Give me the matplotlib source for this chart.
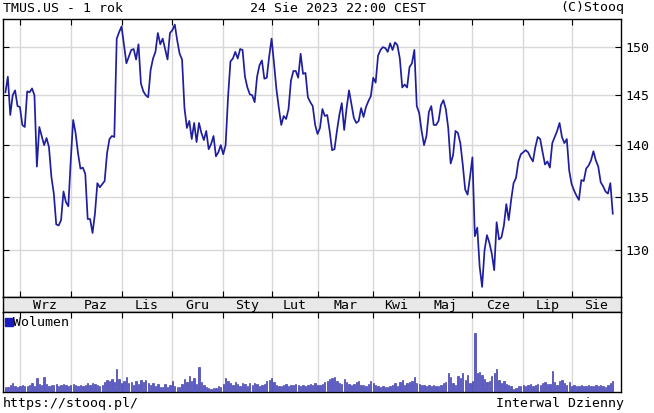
import numpy as np
import matplotlib
matplotlib.use("Agg")
import matplotlib.pyplot as plt
from matplotlib.ticker import FixedLocator, FixedFormatter, NullLocator, NullFormatter

# daily close, 24 Aug 2022 .. 24 Aug 2023 (trading days)
close = [
    145.3, 146.9, 143.0, 145.0, 145.5, 143.9, 143.8, 142.0, 141.8, 145.4,
    145.3, 145.7, 145.0, 137.9, 141.8, 140.9, 140.0, 140.7, 139.8, 136.9,
    135.3, 132.4, 132.3, 132.8, 135.5, 134.5, 134.1, 138.5, 142.5, 141.2,
    139.2, 137.7, 137.8, 137.2, 132.9, 132.9, 131.6, 133.4, 136.3, 135.9,
    136.2, 136.5, 139.2, 140.6,
    140.9, 140.8, 150.9, 151.6, 152.2, 150.2, 148.3, 149.0, 149.7, 149.8,
    148.7, 150.3, 146.2, 145.4, 145.0, 144.8, 147.6, 148.8, 149.5, 151.5,
    150.3, 150.9, 149.8, 148.7, 151.5, 151.8, 152.4, 150.7, 149.3, 148.7,
    143.7, 141.7, 142.4, 140.6, 142.2, 140.3, 142.2, 141.2, 140.5, 141.4,
    139.6, 140.1, 140.9, 138.9, 139.3, 140.0, 139.1,
    140.0, 144.8, 148.5, 148.8, 149.5, 148.8, 149.8, 149.7, 146.9, 145.8,
    145.1, 145.0, 144.3, 146.9, 148.1, 148.6, 146.7, 146.8, 149.0, 150.9,
    148.3, 145.6, 143.7, 142.0, 142.9, 142.6, 143.6, 146.5, 147.5, 147.5,
    146.8, 149.3, 147.2, 147.3, 144.8, 144.3,
    143.9, 142.0, 141.1, 141.7, 143.6, 142.9, 143.0, 141.4, 139.5, 139.6,
    141.4, 143.0, 144.2, 141.5, 143.7, 145.5, 144.1, 142.7, 142.2, 142.4,
    143.7, 142.8, 143.8, 144.4, 144.9, 146.8, 146.3, 149.1, 149.7, 150.0,
    149.9, 149.5, 150.4, 149.7, 150.5, 150.2, 148.8, 145.8, 146.1, 145.8,
    147.9,
    148.3, 149.7, 143.9, 143.2, 141.4, 140.0, 140.9, 143.3, 143.9, 142.0,
    142.0, 142.4, 144.0, 144.5, 143.6, 141.7, 138.2, 139.0, 141.4, 141.2,
    140.2, 138.1, 135.7, 135.2, 136.9, 138.8, 131.3, 132.1, 128.5, 126.7,
    130.0, 131.4, 130.7, 129.7, 128.2, 132.6, 131.0, 131.2, 132.3, 134.3,
    132.8, 134.7,
    136.3, 136.8, 138.4, 139.1, 139.3, 139.5, 139.3, 138.8, 138.4, 139.8,
    140.8, 140.6, 139.3, 138.1, 138.4, 137.8, 140.2, 140.8, 141.4, 142.2,
    140.8, 140.2, 140.6, 137.5, 136.2, 135.6, 135.1, 134.7, 136.6, 136.5,
    137.7, 138.0, 138.5, 139.4, 138.5, 137.9, 136.4, 136.0, 135.5, 135.3,
    136.3, 133.4,
]

# volume, millions
volume = [
    4.0, 3.6, 5.2, 7.0, 4.4, 3.8, 4.6, 5.0, 4.2, 4.8,
    5.5, 6.5, 4.6, 10.5, 6.0, 5.2, 11.5, 5.8, 4.6, 5.0,
    5.4, 5.8, 4.8, 5.2, 6.0, 5.6, 4.8, 5.5, 6.2, 5.0,
    4.6, 5.2, 4.4, 5.6, 6.4, 5.2, 7.0, 6.0, 5.4, 4.8,
    5.0, 7.6, 9.0, 8.0, 9.5, 7.4, 17.0, 9.8, 7.0, 8.4,
    11.0, 6.4, 7.2, 5.4, 8.6, 6.2, 9.0, 7.6, 8.8, 6.8,
    5.4, 7.0, 4.6, 6.0, 3.4, 4.0, 5.8, 3.8, 5.2, 8.6,
    4.8, 3.8, 4.0, 6.2, 10.0, 7.4, 12.0, 8.0, 10.6, 6.0,
    18.5, 7.6, 5.0, 4.0, 3.0, 2.4, 3.2, 2.8, 4.4, 4.0,
    6.2, 10.5, 8.6, 7.0, 5.0, 7.4, 6.0, 4.8, 7.0, 5.8,
    4.8, 6.6, 5.0, 6.8, 6.0, 4.4, 5.2, 6.0, 8.2, 9.0,
    10.5, 7.2, 5.6, 4.6, 4.8, 5.0, 6.2, 4.6, 5.4, 5.0,
    6.0, 5.2, 4.8, 5.6, 4.6, 5.4, 5.8, 5.2, 6.6, 5.0,
    5.6, 6.0, 7.2, 8.0, 9.4, 10.6, 11.0, 8.0, 7.0, 6.2,
    9.5, 7.6, 6.0, 5.0, 6.2, 7.4, 8.0, 5.4, 5.0, 4.6,
    6.2, 8.6, 7.0, 5.4, 4.4, 3.8, 4.6, 4.0, 3.6, 4.2,
    5.6, 6.8, 4.2, 7.4, 9.0, 5.6, 6.4, 7.8, 8.4, 11.2,
    6.8, 6.0, 5.2, 5.6, 4.8, 5.2, 4.6, 5.4, 4.4, 4.8,
    5.0, 6.4, 7.6, 14.0, 11.0, 6.6, 5.0, 12.0, 10.6, 14.5,
    9.0, 12.5, 7.0, 8.0, 44.0, 14.0, 15.0, 12.5, 9.6, 7.2,
    8.6, 12.0, 14.0, 17.5, 9.0, 7.0, 8.4, 6.2, 5.6, 4.8,
    2.2, 2.8, 4.2, 4.8, 5.4, 4.6, 5.2, 6.0, 4.8, 5.6,
    6.2, 5.4, 6.8, 7.6, 5.8, 6.0, 16.0, 7.2, 5.6, 8.0,
    9.0, 6.4, 5.0, 7.2, 4.8, 5.4, 4.6, 4.2, 5.0, 4.6,
    4.4, 5.2, 4.8, 4.2, 5.0, 4.6, 5.6, 4.4, 4.0, 5.0,
    6.8, 8.4,
]

months = ["Wrz", "Paz", "Lis", "Gru", "Sty", "Lut", "Mar", "Kwi", "Maj", "Cze", "Lip", "Sie"]
month_start = [6, 27, 48, 69, 90, 110, 129, 152, 171, 193, 214, 234]
price_ticks = [130, 135, 140, 145, 150]

mono = "DejaVu Sans Mono"
line_col = "#1f1f9e"
grid_col = "#d8d8d8"
x = np.arange(len(close))
xlim = (-1.0, 254.4)

W, H = 654, 413
fig = plt.figure(figsize=(W / 100, H / 100), dpi=100)


def box(l, t, r, b):
    return [l / W, 1 - b / H, (r - l) / W, (b - t) / H]


ax = fig.add_axes(box(3, 19, 621, 297))
ax.plot(x, close, color=line_col, lw=1.25, zorder=3)
ax.set_yscale("log")
ax.set_xlim(*xlim)
ax.set_ylim(125.8, 153.0)
ax.yaxis.set_major_locator(FixedLocator(price_ticks))
ax.yaxis.set_major_formatter(FixedFormatter([str(t) for t in price_ticks]))
ax.yaxis.set_minor_locator(NullLocator())
ax.yaxis.set_minor_formatter(NullFormatter())
ax.set_xticks(month_start)
ax.set_xticklabels([])
ax.grid(True, color=grid_col, lw=1.0, zorder=0)
ax.tick_params(axis="y", left=True, right=True, labelleft=False, labelright=True,
               direction="in", length=4, labelsize=9.5, pad=3)
ax.tick_params(axis="x", top=True, bottom=True, direction="in", length=4)
for lab in ax.get_yticklabels():
    lab.set_family(mono)
for s in ax.spines.values():
    s.set_color("black")
    s.set_linewidth(1.0)

# month band
band = fig.add_axes(box(3, 297, 621, 312))
band.set_facecolor("#e8e8e8")
band.set_xlim(*xlim)
band.set_ylim(0, 1)
band.set_xticks([])
band.set_yticks([])
edges = month_start + [xlim[1]]
for i, name in enumerate(months):
    band.text((edges[i] + edges[i + 1]) / 2, 0.45, name, ha="center", va="center",
              fontsize=9.5, family=mono)
for s in band.spines.values():
    s.set_color("black")
    s.set_linewidth(1.0)

# volume panel
vax = fig.add_axes(box(3, 312, 621, 392))
vax.bar(x, volume, width=0.55, color="#5a5acc", edgecolor="#26269e", linewidth=0.4, zorder=3)
vax.set_xlim(*xlim)
vax.set_ylim(0, 60)
vax.set_xticks(month_start)
vax.set_xticklabels([])
vax.set_yticks([])
vax.grid(True, axis="x", color=grid_col, lw=1.0, zorder=0)
vax.tick_params(axis="x", top=True, bottom=False, direction="in", length=4)
for s in vax.spines.values():
    s.set_color("black")
    s.set_linewidth(1.0)
vax.plot([1.3], [52.5], marker="s", ms=6, color="#1a1abf")
vax.text(3.0, 52.5, "Wolumen", va="center", ha="left", fontsize=9.5, family=mono)

# header / footer
fig.text(3 / W, 1 - 8 / H, "TMUS.US - 1 rok", ha="left", va="center", fontsize=9.5, family=mono)
fig.text(338 / W, 1 - 8 / H, "24 Sie 2023 22:00 CEST", ha="center", va="center", fontsize=9.5, family=mono)
fig.text(624 / W, 1 - 8 / H, "(C)Stooq", ha="right", va="center", fontsize=9.5, family=mono)
fig.text(3 / W, 1 - 403 / H, "https://stooq.pl/", ha="left", va="center", fontsize=9.5, family=mono)
fig.text(624 / W, 1 - 403 / H, "Interwal Dzienny", ha="right", va="center", fontsize=9.5, family=mono)

fig.savefig("out.png", dpi=100)
